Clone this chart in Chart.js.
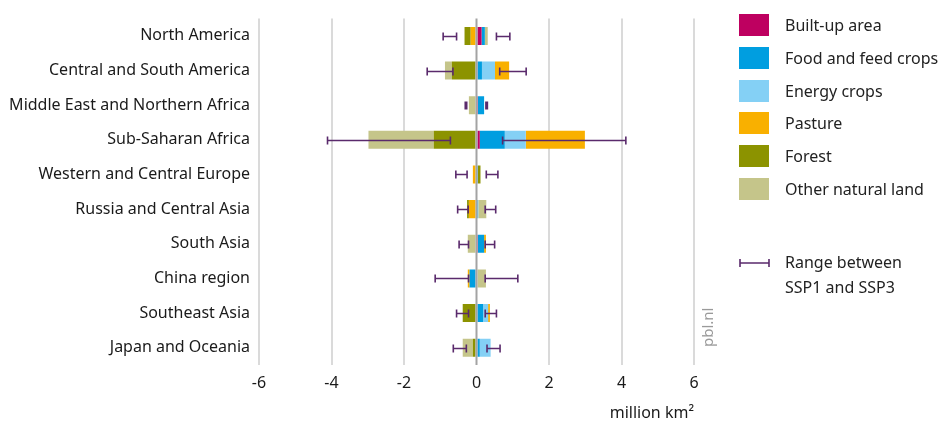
<!DOCTYPE html>
<html>
<head>
<meta charset="utf-8">
<script src="https://cdn.jsdelivr.net/npm/chart.js@4/dist/chart.umd.min.js"></script>
<style>
  html, body { margin: 0; padding: 0; background: #fff; }
  #wrap { position: relative; width: 941px; height: 423px; font-family: 'Noto Sans', sans-serif; color: #222; }
  #legend { position: absolute; left: 739px; top: 0; }
  .item { position: absolute; left: 0; white-space: nowrap; font-size: 16px; line-height: 22px; }
  .item .sw { position: absolute; left: 0; top: 0; width: 30px; height: 22px; }
  .item span.t { position: absolute; left: 46px; top: 0; }
  #pbl { position: absolute; left: 697px; top: 347px; transform-origin: 0 0; transform: rotate(-90deg); font-size: 15px; color: #9a9a9a; }
</style>
</head>
<body>
<div id="wrap">
  <canvas id="chart" width="941" height="423"></canvas>
  <div id="legend"></div>
  <div id="pbl">pbl.nl</div>
</div>
<script>
// regions, top to bottom
const regions = ['North America', 'Central and South America', 'Middle East and Northern Africa',
  'Sub-Saharan Africa', 'Western and Central Europe', 'Russia and Central Asia', 'South Asia',
  'China region', 'Southeast Asia', 'Japan and Oceania'];

// change in land use, million km2
const builtUp    = [0.14, 0.03, 0.04, 0.09, 0, 0, 0.04, 0, 0, 0];
const foodCrops  = [0.09, 0.12, 0.17, 0.69, 0.04, 0.02, 0.17, -0.19, 0.18, 0.09];
const energyCrops= [0, 0.36, 0, 0.58, 0, 0.03, 0, 0, 0.14, 0.30];
const pasture    = [-0.16, 0.39, 0, 1.63, -0.10, -0.21, 0.05, -0.05, 0.05, 0];
const forest     = [-0.17, -0.68, 0, -1.18, 0.07, -0.05, 0, 0, -0.38, -0.10];
const otherLand  = [0.08, -0.19, -0.21, -1.80, 0, 0.22, -0.24, 0.26, 0, -0.28];

// range between SSP1 and SSP3 (negative side and positive side)
const rangeNegLo = [-0.92, -1.36, -0.31, -4.11, -0.57, -0.52, -0.48, -1.14, -0.55, -0.64];
const rangeNegHi = [-0.55, -0.65, -0.27, -0.72, -0.26, -0.23, -0.22, -0.22, -0.22, -0.28];
const rangePosLo = [0.55, 0.64, 0.26, 0.72, 0.27, 0.24, 0.24, 0.24, 0.24, 0.29];
const rangePosHi = [0.92, 1.37, 0.30, 4.12, 0.59, 0.53, 0.50, 1.14, 0.55, 0.65];

const xTicks = [-6, -4, -2, 0, 2, 4, 6];

const seriesNames = ['Built-up area', 'Food and feed crops', 'Energy crops', 'Pasture', 'Forest', 'Other natural land'];
const seriesColors = ['#be0060', '#009ee0', '#84d0f5', '#f9b000', '#8c9300', '#c5c58a'];
const seriesData = [builtUp, foodCrops, energyCrops, pasture, forest, otherLand];

const RANGE_COL = '#5a2a6c';

// zero line over the bars + SSP range whiskers
const overlay = {
  id: 'overlay',
  afterDatasetsDraw(chart) {
    const { ctx, chartArea, scales: { x, y } } = chart;
    ctx.save();
    const x0 = x.getPixelForValue(0);
    ctx.strokeStyle = '#a3a3a3';
    ctx.lineWidth = 2;
    ctx.beginPath();
    ctx.moveTo(x0, chartArea.top);
    ctx.lineTo(x0, chartArea.bottom);
    ctx.stroke();

    ctx.strokeStyle = RANGE_COL;
    ctx.lineWidth = 1.6;
    const whisker = (a, b, py) => {
      const pa = x.getPixelForValue(a), pb = x.getPixelForValue(b);
      ctx.beginPath();
      ctx.moveTo(pa, py); ctx.lineTo(pb, py);
      ctx.moveTo(pa, py - 4); ctx.lineTo(pa, py + 4);
      ctx.moveTo(pb, py - 4); ctx.lineTo(pb, py + 4);
      ctx.stroke();
    };
    regions.forEach((r, i) => {
      const py = Math.round(y.getPixelForValue(i)) + 0.5;
      whisker(rangeNegLo[i], rangeNegHi[i], py);
      whisker(rangePosLo[i], rangePosHi[i], py);
    });
    ctx.restore();
  }
};

new Chart(document.getElementById('chart'), {
  type: 'bar',
  data: {
    labels: regions,
    datasets: seriesData.map((d, i) => ({
      label: seriesNames[i],
      data: d,
      backgroundColor: seriesColors[i],
      borderWidth: 0,
      categoryPercentage: 1,
      barPercentage: 0.52
    }))
  },
  options: {
    indexAxis: 'y',
    responsive: false,
    animation: false,
    layout: { padding: { top: 14, right: 247, bottom: 0, left: 0 } },
    plugins: { legend: { display: false }, tooltip: { enabled: false } },
    scales: {
      x: {
        stacked: true,
        min: -6, max: 6,
        afterFit: (s) => { s.height = 58; },
        afterBuildTicks: (s) => { s.ticks = xTicks.map(v => ({ value: v })); },
        grid: { color: (c) => c.tick && c.tick.value === 0 ? 'rgba(0,0,0,0)' : '#dadada', lineWidth: 2, drawTicks: false },
        border: { display: false },
        ticks: { color: '#1a1a1a', padding: 9, font: { family: 'Noto Sans', size: 16 } },
        title: { display: true, text: 'million km²', align: 'end', color: '#1a1a1a',
          font: { family: 'Noto Sans', size: 16 }, padding: { top: 1, bottom: 0 } }
      },
      y: {
        stacked: true,
        afterFit: (s) => { s.width = 259; },
        grid: { display: false, drawTicks: false },
        border: { display: false },
        ticks: { color: '#1a1a1a', padding: 9, font: { family: 'Noto Sans', size: 16 } }
      }
    }
  },
  plugins: [overlay]
});

// legend
const legend = document.getElementById('legend');
const legendTops = [14, 47, 80, 112, 145, 178];
seriesNames.forEach((n, i) => {
  const it = document.createElement('div');
  it.className = 'item';
  it.style.top = legendTops[i] + 'px';
  it.innerHTML = '<div class="sw" style="background:' + seriesColors[i] + '"></div><span class="t">' + n + '</span>';
  legend.appendChild(it);
});
const rng = document.createElement('div');
rng.className = 'item';
rng.style.top = '250px';
rng.innerHTML = '<svg width="32" height="26" style="position:absolute;left:0;top:0"><path d="M1 13H30M1 9V17M30 9V17" stroke="' + RANGE_COL + '" stroke-width="1.6" fill="none"/></svg>' +
  '<span class="t" style="line-height:25px">Range between<br>SSP1 and SSP3</span>';
legend.appendChild(rng);
</script>
</body>
</html>
